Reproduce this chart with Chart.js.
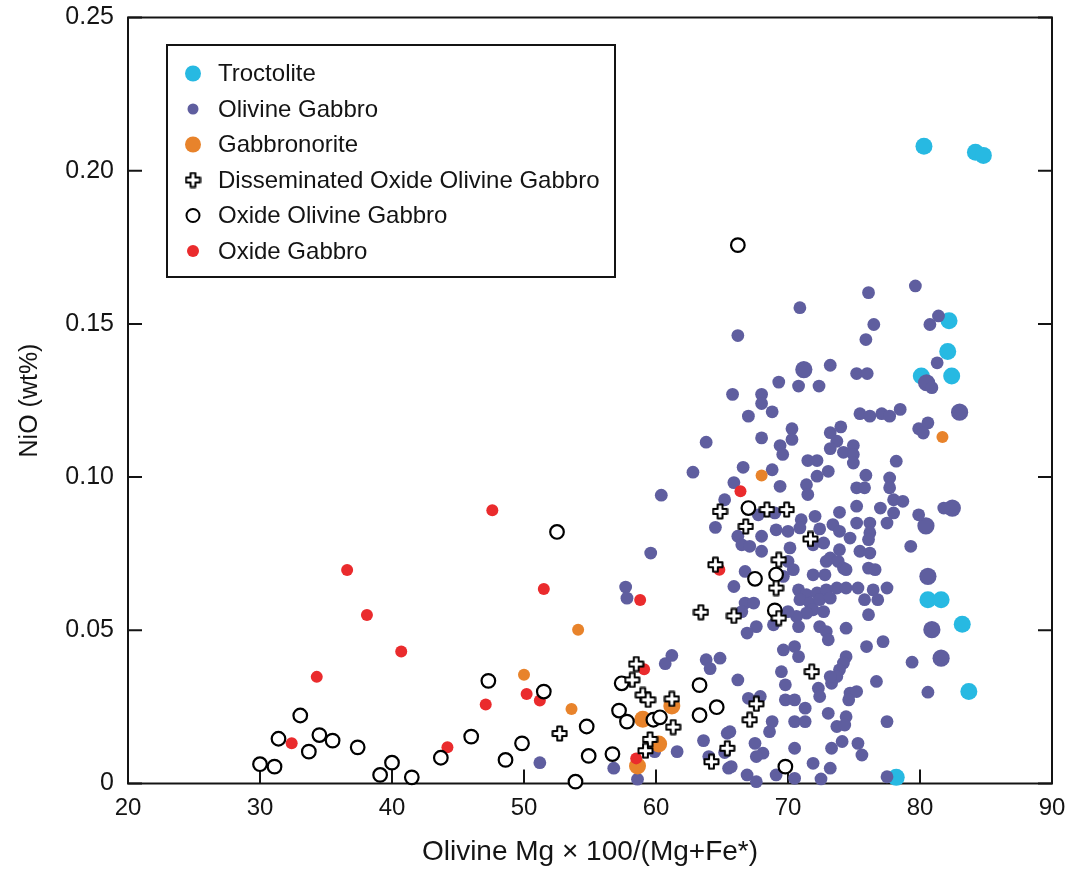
<!DOCTYPE html>
<html>
<head>
<meta charset="utf-8">
<script src="https://cdn.jsdelivr.net/npm/chart.js@4.4.0/dist/chart.umd.min.js"></script>
<style>
  html, body { margin: 0; padding: 0; background: #fff; }
</style>
</head>
<body>
<canvas id="chart" width="1070" height="876"></canvas>
<script>
// Olivine NiO (wt%) against Mg# for each rock type: [Mg#, NiO]
const troctolite = [
  [80.3, 0.208], [84.2, 0.206], [84.8, 0.205], [82.2, 0.151], [82.1, 0.141], [80.1, 0.133],
  [82.4, 0.133], [80.6, 0.060], [81.6, 0.060], [83.2, 0.052], [83.7, 0.030], [78.2, 0.002]
];

const olivineGabbro = [
  [51.2, 0.0068], [56.8, 0.0050], [58.6, 0.0014], [57.7, 0.0641], [57.8, 0.0605], [59.6, 0.0752],
  [60.4, 0.0941], [60.7, 0.0391], [61.2, 0.0418], [61.6, 0.0104], [59.9, 0.0104], [63.8, 0.0404],
  [64.1, 0.0375], [64.85, 0.0409], [64.5, 0.0836], [65.4, 0.0164], [63.6, 0.0140], [64.0, 0.0088],
  [65.5, 0.0050], [65.2, 0.0101], [65.2, 0.0926], [63.8, 0.1114], [62.8, 0.1016], [65.9, 0.0982],
  [76.1, 0.1602], [70.9, 0.1553], [76.5, 0.1498], [75.9, 0.1449], [66.2, 0.1462], [73.2, 0.1365],
  [75.2, 0.1338], [76.0, 0.1338], [69.3, 0.1310], [70.8, 0.1297], [72.35, 0.1297], [65.8, 0.1270],
  [68.0, 0.1270], [68.0, 0.1240], [67.0, 0.1199], [68.8, 0.1213], [75.45, 0.1207], [76.2, 0.1199],
  [77.1, 0.1207], [77.7, 0.1199], [78.5, 0.1221], [70.3, 0.1158], [70.3, 0.1123], [73.2, 0.1145],
  [74.0, 0.1164], [73.7, 0.1117], [73.2, 0.1093], [68.0, 0.1128], [69.4, 0.1103], [69.6, 0.1074],
  [74.2, 0.1081], [74.95, 0.1103], [74.95, 0.1074], [74.95, 0.1046], [71.5, 0.1054], [72.2, 0.1054],
  [78.2, 0.1052], [66.6, 0.1032], [68.8, 0.1024], [73.05, 0.1019], [72.2, 0.1003], [75.9, 0.1006],
  [77.7, 0.0997], [69.4, 0.0970], [71.4, 0.0975], [71.5, 0.0943], [75.2, 0.0965], [75.8, 0.0965],
  [77.7, 0.0965], [77.0, 0.0899], [78.0, 0.0926], [78.0, 0.0883], [67.75, 0.0877], [69.0, 0.0883],
  [72.05, 0.0872], [73.9, 0.0885], [75.2, 0.0905], [71.0, 0.0861], [72.4, 0.0831], [73.4, 0.0845],
  [73.9, 0.0823], [75.2, 0.0850], [76.2, 0.0850], [76.2, 0.0818], [77.5, 0.0850], [69.1, 0.0828],
  [70.0, 0.0823], [70.9, 0.0834], [68.0, 0.0807], [66.2, 0.0807], [66.5, 0.0779], [67.1, 0.0774],
  [68.0, 0.0758], [70.15, 0.0769], [71.9, 0.0779], [72.7, 0.0785], [73.9, 0.0763], [74.7, 0.0801],
  [76.1, 0.0796], [75.45, 0.0758], [76.2, 0.0752], [73.2, 0.0736], [72.9, 0.0725], [73.8, 0.0725],
  [74.2, 0.0703], [70.0, 0.0725], [70.4, 0.0698], [74.4, 0.0698], [76.1, 0.0703], [76.6, 0.0698],
  [71.9, 0.0681], [72.8, 0.0681], [66.75, 0.0692], [69.65, 0.0676], [65.9, 0.0643], [66.75, 0.0589],
  [67.4, 0.0589], [66.5, 0.0561], [70.8, 0.0632], [71.4, 0.0616], [72.2, 0.0622], [72.9, 0.0632],
  [73.7, 0.0638], [74.4, 0.0638], [75.3, 0.0638], [76.45, 0.0632], [77.5, 0.0638], [75.8, 0.0600],
  [76.8, 0.0600], [70.9, 0.0600], [71.65, 0.0589], [72.4, 0.0600], [73.2, 0.0605], [71.9, 0.0567],
  [72.7, 0.0561], [71.4, 0.0556], [70.65, 0.0545], [70.0, 0.0561], [70.8, 0.0512], [76.1, 0.0551],
  [74.4, 0.0507], [72.4, 0.0512], [72.9, 0.0496], [73.05, 0.0469], [67.6, 0.0512], [66.9, 0.0491],
  [68.9, 0.0518], [75.95, 0.0447], [77.2, 0.0463], [69.65, 0.0436], [70.5, 0.0447], [70.8, 0.0414],
  [74.4, 0.0414], [74.2, 0.0393], [73.9, 0.0371], [73.7, 0.0349], [73.3, 0.0327], [73.2, 0.0349],
  [69.5, 0.0365], [69.8, 0.0322], [66.2, 0.0338], [72.3, 0.0311], [72.4, 0.0284], [74.7, 0.0295],
  [75.2, 0.0300], [74.6, 0.0273], [76.7, 0.0333], [69.8, 0.0273], [70.5, 0.0273], [67.0, 0.0278],
  [67.9, 0.0284], [71.3, 0.0246], [73.05, 0.0229], [74.4, 0.0218], [77.5, 0.0202], [68.8, 0.0202],
  [70.5, 0.0202], [71.3, 0.0202], [68.6, 0.0169], [73.7, 0.0186], [74.3, 0.0191], [65.6, 0.0169],
  [67.5, 0.0131], [68.1, 0.0099], [67.6, 0.0088], [70.5, 0.0115], [71.9, 0.0066], [73.3, 0.0115],
  [74.1, 0.0137], [75.3, 0.0131], [75.6, 0.0093], [73.2, 0.0050], [70.5, 0.0017], [69.1, 0.0028],
  [66.9, 0.0028], [67.6, 0.0006], [77.5, 0.0022], [65.7, 0.0055], [72.5, 0.0015],
  [79.65, 0.1624], [80.75, 0.1498], [81.4, 0.1526], [81.3, 0.1373], [80.9, 0.1292], [79.9, 0.1158],
  [80.6, 0.1177], [80.25, 0.1144], [78.7, 0.0921], [79.9, 0.0877], [81.8, 0.0899], [79.3, 0.0774],
  [79.4, 0.0396], [80.6, 0.0298]
];
// coarse-grained olivine gabbro samples, plotted with the larger symbol
const olivineGabbroCoarse = [
  [71.2, 0.1351], [80.5, 0.1308], [83.0, 0.1212], [80.45, 0.0841], [82.45, 0.0899],
  [80.6, 0.0676], [80.9, 0.0502], [81.6, 0.0409]
];

const gabbronorite = [[50.0, 0.0355], [54.1, 0.0502], [53.6, 0.0243], [68.0, 0.1005], [81.7, 0.1131]];
const gabbronoriteCoarse = [[61.2, 0.0253], [59.0, 0.0210], [60.2, 0.0129], [58.6, 0.0057]];

const dissOxideOlGabbro = [
  [52.7, 0.0163], [64.85, 0.0888], [64.5, 0.0714], [63.4, 0.0559], [65.9, 0.0547], [58.5, 0.0390],
  [58.2, 0.0338], [59.0, 0.0289], [59.4, 0.0273], [61.2, 0.0276], [61.3, 0.0184], [59.55, 0.0144],
  [59.2, 0.0107], [65.4, 0.0115], [64.2, 0.0071], [68.4, 0.0894], [69.9, 0.0894], [66.8, 0.0839],
  [71.7, 0.0798], [69.3, 0.0730], [69.1, 0.0638], [69.3, 0.0540], [71.8, 0.0365], [67.6, 0.0260],
  [67.1, 0.0208]
];

const oxideOlGabbro = [
  [52.5, 0.0821], [47.3, 0.0335], [51.5, 0.0300], [33.05, 0.0222], [31.4, 0.0146], [34.5, 0.0158],
  [35.5, 0.0140], [33.7, 0.0104], [37.4, 0.0118], [30.0, 0.0063], [31.1, 0.0055], [40.0, 0.0068],
  [39.1, 0.0028], [41.5, 0.0020], [43.7, 0.0084], [46.0, 0.0153], [48.6, 0.0077], [49.85, 0.0131],
  [53.9, 0.0006], [57.4, 0.0327], [57.2, 0.0238], [57.8, 0.0202], [54.75, 0.0186], [59.8, 0.0208],
  [60.3, 0.0216], [54.9, 0.0090], [56.7, 0.0096], [63.3, 0.0321], [64.6, 0.0249], [63.3, 0.0223],
  [66.2, 0.1757], [67.0, 0.0899], [67.5, 0.0668], [69.1, 0.0682], [69.0, 0.0565], [69.8, 0.0055]
];

const oxideGabbro = [
  [47.6, 0.0892], [36.6, 0.0697], [38.1, 0.0550], [40.7, 0.0431], [34.3, 0.0348], [51.5, 0.0635],
  [50.2, 0.0292], [47.1, 0.0258], [51.2, 0.0271], [32.4, 0.0131], [44.2, 0.0118], [58.8, 0.0599],
  [59.1, 0.0373], [58.5, 0.0082], [66.4, 0.0954], [64.8, 0.0698]
];

const xTicks = [20, 30, 40, 50, 60, 70, 80, 90];
const yTicks = [0, 0.05, 0.10, 0.15, 0.20, 0.25];

const CYAN = '#27b9e2';
const PURPLE = '#5f5e9f';
const ORANGE = '#e8832b';
const RED = '#ea2b2d';
const INK = '#141414';
const SANS = "'Liberation Sans', Arial, Helvetica, sans-serif";

const pts = list => list.map(([x, y]) => ({ x, y }));

// white plus sign with a black outline, used as a point style
function makePlus(size) {
  const c = document.createElement('canvas');
  c.width = c.height = size;
  const g = c.getContext('2d');
  const m = size / 2, a = 2.4, r = size / 2 - 1.5;
  g.beginPath();
  g.moveTo(m - a, m - r); g.lineTo(m + a, m - r); g.lineTo(m + a, m - a); g.lineTo(m + r, m - a);
  g.lineTo(m + r, m + a); g.lineTo(m + a, m + a); g.lineTo(m + a, m + r); g.lineTo(m - a, m + r);
  g.lineTo(m - a, m + a); g.lineTo(m - r, m + a); g.lineTo(m - r, m - a); g.lineTo(m - a, m - a);
  g.closePath();
  g.fillStyle = '#fff';
  g.fill();
  g.lineWidth = 2;
  g.lineJoin = 'round';
  g.strokeStyle = '#000';
  g.stroke();
  return c;
}
const plusImg = makePlus(17);

const TICK = 14;

// box frame plus inward tick marks on bottom, left and right
const framePlugin = {
  id: 'frame',
  beforeDatasetsDraw(chart) {
    const { ctx, chartArea: a, scales: { x, y } } = chart;
    ctx.save();
    ctx.strokeStyle = INK;
    ctx.lineWidth = 2;
    ctx.strokeRect(a.left, a.top, a.right - a.left, a.bottom - a.top);
    ctx.beginPath();
    xTicks.forEach(v => {
      const px = x.getPixelForValue(v);
      ctx.moveTo(px, a.bottom); ctx.lineTo(px, a.bottom - TICK);
    });
    yTicks.forEach(v => {
      const py = y.getPixelForValue(v);
      ctx.moveTo(a.left, py); ctx.lineTo(a.left + TICK, py);
      ctx.moveTo(a.right, py); ctx.lineTo(a.right - TICK, py);
    });
    ctx.stroke();
    ctx.restore();
  }
};

const legendRows = [
  { text: 'Troctolite', kind: 'dot', color: CYAN, r: 8 },
  { text: 'Olivine Gabbro', kind: 'dot', color: PURPLE, r: 5.5 },
  { text: 'Gabbronorite', kind: 'dot', color: ORANGE, r: 8 },
  { text: 'Disseminated Oxide Olivine Gabbro', kind: 'plus' },
  { text: 'Oxide Olivine Gabbro', kind: 'ring', r: 6.5 },
  { text: 'Oxide Gabbro', kind: 'dot', color: RED, r: 6 }
];

const legendPlugin = {
  id: 'boxLegend',
  afterDraw(chart) {
    const { ctx, chartArea: a } = chart;
    const left = a.left + 39, top = a.top + 27.5, w = 448, h = 232;
    ctx.save();
    ctx.fillStyle = '#fff';
    ctx.fillRect(left, top, w, h);
    ctx.strokeStyle = INK;
    ctx.lineWidth = 2;
    ctx.strokeRect(left, top, w, h);
    ctx.font = '24px ' + SANS;
    ctx.textBaseline = 'middle';
    ctx.fillStyle = INK;
    legendRows.forEach((row, i) => {
      const cy = top + 28.5 + i * 35.5, cx = left + 26;
      if (row.kind === 'dot') {
        ctx.beginPath();
        ctx.arc(cx, cy, row.r, 0, Math.PI * 2);
        ctx.fillStyle = row.color;
        ctx.fill();
      } else if (row.kind === 'ring') {
        ctx.beginPath();
        ctx.arc(cx, cy, row.r, 0, Math.PI * 2);
        ctx.fillStyle = '#fff';
        ctx.fill();
        ctx.lineWidth = 2;
        ctx.strokeStyle = '#000';
        ctx.stroke();
      } else {
        ctx.drawImage(plusImg, cx - plusImg.width / 2, cy - plusImg.height / 2);
      }
      ctx.fillStyle = INK;
      ctx.fillText(row.text, left + 51, cy + 1);
    });
    ctx.restore();
  }
};

const filled = (label, data, color, r, order) => ({
  label, data: pts(data), order, clip: false,
  backgroundColor: color, pointRadius: r, pointHoverRadius: r, pointBorderWidth: 0, borderWidth: 0
});

new Chart(document.getElementById('chart'), {
  type: 'scatter',
  data: {
    datasets: [
      filled('Troctolite', troctolite, CYAN, 8.5, 6),
      filled('Olivine Gabbro', olivineGabbro, PURPLE, 6.4, 5),
      filled('Olivine Gabbro (coarse)', olivineGabbroCoarse, PURPLE, 8.6, 5),
      filled('Gabbronorite', gabbronorite, ORANGE, 6, 4),
      filled('Gabbronorite (coarse)', gabbronoriteCoarse, ORANGE, 8.5, 4),
      filled('Oxide Gabbro', oxideGabbro, RED, 6, 3),
      {
        label: 'Oxide Olivine Gabbro', data: pts(oxideOlGabbro), order: 2, clip: false,
        backgroundColor: '#fff', borderColor: '#000', pointRadius: 6.8, pointHoverRadius: 6.8,
        pointBorderWidth: 2.2, pointHoverBorderWidth: 2.2
      },
      {
        label: 'Disseminated Oxide Olivine Gabbro', data: pts(dissOxideOlGabbro), order: 1, clip: false,
        pointStyle: plusImg, pointRadius: 8, pointHoverRadius: 8
      }
    ]
  },
  options: {
    responsive: false,
    devicePixelRatio: 1,
    animation: false,
    events: [],
    layout: { padding: { left: 0, right: 18, top: 17.5, bottom: 0 } },
    plugins: { legend: { display: false }, tooltip: { enabled: false } },
    scales: {
      x: {
        type: 'linear', min: 20, max: 90,
        // fixed band height; end labels may hang past the plot edges
        afterFit(s) { s.height = 92.5; s.paddingLeft = 0; s.paddingRight = 0; },
        afterBuildTicks(s) { s.ticks = xTicks.map(v => ({ value: v })); },
        grid: { display: false, drawTicks: false },
        border: { display: false },
        ticks: { color: INK, font: { family: SANS, size: 24 }, padding: 10, maxRotation: 0, autoSkip: false },
        title: {
          display: true, text: 'Olivine Mg \u00d7 100/(Mg+Fe*)', color: INK,
          font: { family: SANS, size: 28 }, padding: { top: 0, bottom: 7 }
        }
      },
      y: {
        type: 'linear', min: 0, max: 0.25,
        afterFit(s) { s.width = 128; s.paddingTop = 0; s.paddingBottom = 0; },
        afterBuildTicks(s) { s.ticks = yTicks.map(v => ({ value: v })); },
        grid: { display: false, drawTicks: false },
        border: { display: false },
        ticks: {
          color: INK, font: { family: SANS, size: 25 }, padding: 14,
          callback: v => (v === 0 ? '0' : v.toFixed(2))
        },
        title: {
          display: true, text: 'NiO (wt%)', color: INK,
          font: { family: SANS, size: 25 }, padding: { top: 15, bottom: 0 }
        }
      }
    }
  },
  plugins: [framePlugin, legendPlugin]
});
</script>
</body>
</html>
